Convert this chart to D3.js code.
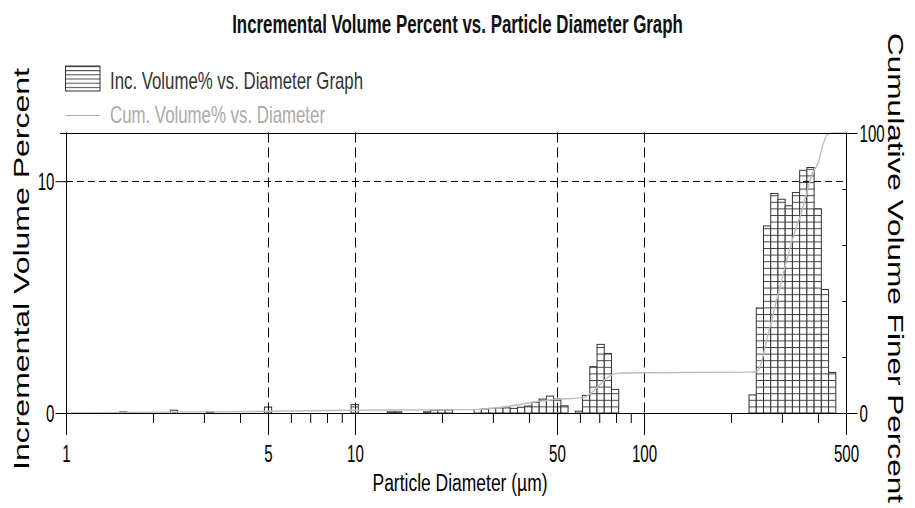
<!DOCTYPE html>
<html lang="en">
<head>
<meta charset="utf-8">
<title>Incremental Volume Percent vs. Particle Diameter Graph</title>
<style>
  body { margin: 0; background: #fff; }
  svg { display: block; font-family: "Liberation Sans", Arial, sans-serif; }
</style>
</head>
<body>
<svg id="chart" width="915" height="508"></svg>

<script src="https://d3js.org/d3.v7.min.js"></script>
<script>

//DATA
//lower edge of each non-empty size channel, in microns
var binLow = [1.534, 2.297, 3.063, 4.860, 9.694, 12.935, 13.699, 17.26, 18.28, 19.36, 20.52,
  25.83, 27.36, 28.98, 30.70, 32.52, 34.45, 36.49, 38.66, 40.95, 43.38, 45.95, 48.68, 51.56, 57.86,
  61.29, 64.93, 68.78, 72.86, 77.18,
  230.9, 244.6, 259.1, 274.5, 290.7, 308.0, 326.2, 345.6, 366.1, 387.8, 410.8, 435.2];
//incremental volume % of each channel
var incVolume = [0.05, 0.12, 0.05, 0.26, 0.37, 0.05, 0.05, 0.05, 0.12, 0.13, 0.13,
  0.15, 0.17, 0.20, 0.22, 0.22, 0.20, 0.25, 0.30, 0.46, 0.60, 0.73, 0.60, 0.31, 0.08,
  0.76, 2.00, 2.96, 2.57, 1.02,
  0.78, 4.53, 8.07, 9.47, 9.22, 8.94, 9.51, 10.47, 10.59, 8.81, 5.33, 1.75];
var BIN_RATIO = 1.0593; //width of one channel (upper edge / lower edge)

//cumulative volume finer curve
var cumDiam = [1, 2.11, 5.08, 10, 19.7, 26.0, 49.9, 61.5, 78.1, 82.6, 232.7, 245.5, 252.0, 265.8,
  280.2, 295.5, 311.7, 328.6, 346.6, 365.6, 380.4, 401.1, 417.4, 434.3, 451.9, 500];
var cumPercent = [0, 0.3, 0.6, 1.0, 1.1, 1.2, 4.9, 5.5, 13.8, 14.3, 14.6, 14.8, 16.5, 26.0,
  35.6, 45.0, 54.6, 63.0, 70.0, 78.5, 85.0, 89.5, 96.3, 99.6, 100, 100];

//axis ticks
var xMajor = [1, 5, 10, 50, 100, 500];
var xMinor = [2, 3, 4, 6, 7, 8, 9, 20, 30, 40, 60, 70, 80, 90, 200, 300, 400];
var xGrid = [5, 10, 50, 100];
var yLeftTicks = [0, 10];
var yRightTicks = [0, 100];
var yRightMinor = [20, 40, 60, 80];

//LAYOUT
var LEFT = 66, RIGHT = 846, TOP = 132.5, BOTTOM = 413;
var SQUEEZE = 0.63; //the original uses a narrow face for horizontal text
var HATCH = 6.6;

var svg = d3.select("#chart");

var x = d3.scaleLog().domain([1, 500]).range([LEFT, RIGHT]);
var yL = d3.scaleLinear().domain([0, 12.1]).range([BOTTOM, TOP]);
var yR = d3.scaleLinear().domain([0, 100]).range([BOTTOM, 133]);

//snap a coordinate to the pixel centre so 1px lines stay sharp
function px(v) { return Math.round(v) + 0.5; }

//horizontal hatch used by the bars
var defs = svg.append("defs");
var pat = defs.append("pattern")
    .attr("id", "hatch")
    .attr("patternUnits", "userSpaceOnUse")
    .attr("width", 10).attr("height", HATCH)
    .attr("patternTransform", "translate(0," + (BOTTOM - HATCH * 100) + ")");
pat.append("rect").attr("width", 10).attr("height", HATCH).attr("fill", "#fff");
pat.append("rect").attr("width", 10).attr("height", 1).attr("fill", "#444");

var legendPat = defs.append("pattern")
    .attr("id", "hatchLegend")
    .attr("patternUnits", "userSpaceOnUse")
    .attr("width", 10).attr("height", 4.17)
    .attr("patternTransform", "translate(0,66)");
legendPat.append("rect").attr("width", 10).attr("height", 4.17).attr("fill", "#fff");
legendPat.append("rect").attr("width", 10).attr("height", 1).attr("fill", "#444");

//title: measure it, then squeeze it to the narrow width of the original
var title = svg.append("text")
    .attr("text-anchor", "middle")
    .attr("font-size", 26).attr("font-weight", "bold")
    .attr("fill", "#111")
    .text("Incremental Volume Percent vs. Particle Diameter Graph");
var titleScale = 451 / title.node().getComputedTextLength();
title.attr("transform", "translate(457.5,33) scale(" + titleScale + ",1)");

//legend
svg.append("rect")
    .attr("x", 65.5).attr("y", 66).attr("width", 34.5).attr("height", 25)
    .attr("fill", "url(#hatchLegend)").attr("stroke", "#333");
svg.append("text")
    .attr("x", 110).attr("y", 88.5)
    .attr("font-size", 24).attr("fill", "#333")
    .attr("textLength", 253).attr("lengthAdjust", "spacingAndGlyphs")
    .text("Inc. Volume% vs. Diameter Graph");
svg.append("line")
    .attr("x1", 65.7).attr("x2", 100).attr("y1", 115.5).attr("y2", 115.5)
    .attr("stroke", "#aaa").attr("stroke-width", 1.2);
svg.append("text")
    .attr("x", 110).attr("y", 122.5)
    .attr("font-size", 24).attr("fill", "#aaa")
    .attr("textLength", 215).attr("lengthAdjust", "spacingAndGlyphs")
    .text("Cum. Volume% vs. Diameter");

//bars
svg.append("g").selectAll("rect")
    .data(binLow)
    .join("rect")
    .attr("x", function (d) { return x(d); })
    .attr("width", function (d) { return x(d * BIN_RATIO) - x(d); })
    .attr("y", function (d, i) { return yL(incVolume[i]); })
    .attr("height", function (d, i) { return BOTTOM - yL(incVolume[i]); })
    .attr("fill", "url(#hatch)")
    .attr("stroke", "#333")
    .attr("stroke-width", 1);

//dashed grid lines
svg.append("g").selectAll("line")
    .data(xGrid)
    .join("line")
    .attr("x1", function (d) { return px(x(d)); })
    .attr("x2", function (d) { return px(x(d)); })
    .attr("y1", TOP).attr("y2", BOTTOM)
    .attr("stroke", "#000").attr("stroke-dasharray", "10,5");
svg.append("line")
    .attr("x1", LEFT).attr("x2", RIGHT)
    .attr("y1", px(yL(10))).attr("y2", px(yL(10)))
    .attr("stroke", "#000").attr("stroke-dasharray", "7,4");

//cumulative line
var cumLine = d3.line()
    .x(function (d) { return x(d); })
    .y(function (d, i) { return yR(cumPercent[i]); })
    .curve(d3.curveMonotoneX);
svg.append("path")
    .datum(cumDiam)
    .attr("d", cumLine)
    .attr("fill", "none")
    .attr("stroke", "#bdbdbd")
    .attr("stroke-width", 1.4);

//frame: top line and baseline
svg.append("line")
    .attr("x1", 60).attr("x2", RIGHT).attr("y1", px(TOP)).attr("y2", px(TOP))
    .attr("stroke", "#000");
svg.append("line")
    .attr("x1", LEFT).attr("x2", RIGHT).attr("y1", px(BOTTOM)).attr("y2", px(BOTTOM))
    .attr("stroke", "#000");

//x axis, major ticks with labels
var xAxis = svg.append("g")
    .attr("transform", "translate(0," + BOTTOM + ")")
    .call(d3.axisBottom(x).tickValues(xMajor).tickSize(22).tickSizeOuter(0).tickFormat(d3.format("d")));
xAxis.select(".domain").remove();
xAxis.selectAll("text")
    .attr("y", 49).attr("dy", null)
    .attr("font-size", 24)
    .attr("fill", "#000")
    .attr("transform", "scale(" + SQUEEZE + ",1)");

//x axis, minor ticks
var xAxisMinor = svg.append("g")
    .attr("transform", "translate(0," + BOTTOM + ")")
    .call(d3.axisBottom(x).tickValues(xMinor).tickSize(10).tickSizeOuter(0).tickFormat(""));
xAxisMinor.select(".domain").remove();

//left axis
var yAxisL = svg.append("g")
    .attr("transform", "translate(" + px(LEFT) + ",0)")
    .call(d3.axisLeft(yL).tickValues(yLeftTicks).tickSize(11).tickSizeOuter(0));
yAxisL.select(".domain").attr("d", "M0," + TOP + "V" + BOTTOM);
yAxisL.selectAll("text")
    .attr("x", 0).attr("dy", "0.36em")
    .attr("font-size", 24).attr("fill", "#000")
    .attr("transform", "translate(-12,0) scale(" + SQUEEZE + ",1)");

//right axis
var yAxisR = svg.append("g")
    .attr("transform", "translate(" + px(RIGHT) + ",0)")
    .call(d3.axisRight(yR).tickValues(yRightTicks).tickSize(11).tickSizeOuter(0));
yAxisR.select(".domain").attr("d", "M0," + TOP + "V" + BOTTOM);
yAxisR.selectAll("text")
    .attr("x", 0).attr("dy", "0.36em")
    .attr("font-size", 24).attr("fill", "#000")
    .attr("transform", "translate(13,0) scale(" + SQUEEZE + ",1)");
var yAxisRMinor = svg.append("g")
    .attr("transform", "translate(" + px(RIGHT) + ",0)")
    .call(d3.axisRight(yR).tickValues(yRightMinor).tickSize(-4).tickSizeOuter(0).tickFormat(""));
yAxisRMinor.select(".domain").remove();

//axis titles
svg.append("text")
    .attr("x", 460).attr("y", 491)
    .attr("text-anchor", "middle")
    .attr("font-size", 23).attr("fill", "#000")
    .attr("textLength", 175).attr("lengthAdjust", "spacingAndGlyphs")
    .text("Particle Diameter (µm)");

svg.append("text")
    .attr("transform", "translate(29,269) rotate(-90)")
    .attr("text-anchor", "middle")
    .attr("font-size", 22).attr("fill", "#000")
    .attr("textLength", 402).attr("lengthAdjust", "spacingAndGlyphs")
    .text("Incremental Volume Percent");

svg.append("text")
    .attr("transform", "translate(888,33) rotate(90)")
    .attr("text-anchor", "start")
    .attr("font-size", 22).attr("fill", "#000")
    .attr("textLength", 470).attr("lengthAdjust", "spacingAndGlyphs")
    .text("Cumulative Volume Finer Percent");

</script>
</body>
</html>
